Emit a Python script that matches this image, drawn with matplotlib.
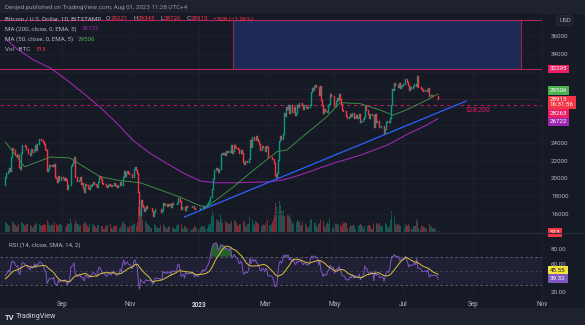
import numpy as np
import pandas as pd
import matplotlib.pyplot as plt
import matplotlib.transforms as mtransforms
from matplotlib.patches import Rectangle

plt.rcParams['font.family'] = ['Roboto', 'DejaVu Sans']

W, H = 585, 325
BG = '#161a25'
BAR_BG = '#1e222d'
TXT = '#b2b5be'
UP = '#089981'
DOWN = '#f23645'
PURPLE = '#9c27b0'
GREEN = '#4caf50'
PINK = '#c2185b'
BLUE = '#2962ff'
RSI_C = '#7e57c2'
RSI_MA_C = '#d8c33a'
FS = 4.5

# daily closes in thousand USD, BITSTAMP BTCUSD
warmup = [22.5, 22.2, 22.6, 20.4, 20.6, 19.0, 20.6, 20.7, 20.7, 20.0,
          21.1, 21.2, 21.5, 21.0, 20.7, 20.3, 20.1, 19.9, 19.3, 19.3,
          19.2, 20.2, 20.5, 20.4, 21.6, 21.6, 21.6, 20.8, 20.0, 19.3]  # Jun 13 - Jul 12 2022, RSI only
jul22 = [20.2, 20.6, 20.8, 21.2, 20.8, 22.4, 23.4, 23.2, 23.2, 22.7,
         22.5, 22.6, 21.3, 21.0, 22.9, 23.8, 23.8, 23.6, 23.3]
aug22 = [23.3, 22.9, 22.8, 22.6, 23.3, 23.0, 23.2, 23.8, 23.2, 23.9,
         23.9, 24.4, 24.4, 24.3, 24.1, 23.9, 23.3, 23.2, 20.8, 21.1,
         21.5, 21.4, 21.5, 21.4, 21.6, 20.2, 20.0, 19.6, 20.3, 19.8, 20.1]
sep22 = [20.1, 20.0, 19.8, 20.0, 19.8, 18.8, 19.3, 19.3, 21.4, 21.6,
         21.8, 22.4, 20.2, 20.2, 19.7, 19.8, 20.1, 19.4, 19.5, 18.9,
         18.5, 19.4, 19.3, 18.9, 18.8, 19.2, 19.1, 19.4, 19.6, 19.4]
oct22 = [19.3, 19.0, 19.6, 20.3, 20.2, 19.9, 19.5, 19.4, 19.4, 19.1,
         19.0, 19.2, 19.4, 19.2, 19.1, 19.3, 19.5, 19.3, 19.1, 19.0,
         19.2, 19.2, 19.6, 19.3, 20.1, 20.8, 20.3, 20.6, 20.8, 20.6, 20.5]
nov22 = [20.5, 20.2, 20.2, 21.1, 21.3, 20.9, 20.6, 18.5, 15.9, 17.6,
         17.0, 16.8, 16.3, 16.6, 16.9, 16.7, 16.7, 16.7, 16.7, 16.3,
         15.8, 16.2, 16.6, 16.6, 16.5, 16.5, 16.5, 16.2, 16.4, 17.2]
dec22 = [17.0, 17.1, 16.9, 17.1, 17.0, 17.1, 16.8, 17.2, 17.1, 17.1,
         17.1, 17.2, 17.8, 17.8, 17.4, 16.6, 16.8, 16.8, 16.4, 16.9,
         16.8, 16.8, 16.8, 16.8, 16.8, 16.9, 16.7, 16.5, 16.6, 16.6, 16.5]
jan23 = [16.6, 16.7, 16.7, 16.9, 16.8, 16.9, 16.9, 17.1, 17.2, 17.4,
         17.9, 18.8, 19.9, 20.9, 20.9, 21.2, 21.1, 20.7, 21.1, 22.7,
         22.8, 22.7, 22.9, 22.6, 23.1, 23.0, 23.1, 23.0, 23.7, 22.8, 23.1]
feb23 = [23.7, 23.5, 23.4, 23.3, 22.9, 22.8, 23.2, 22.9, 21.8, 21.6,
         21.9, 21.8, 21.8, 22.2, 24.3, 23.5, 24.6, 24.6, 24.3, 24.8,
         24.4, 24.2, 23.9, 23.2, 23.2, 23.6, 23.5, 23.1]
mar23 = [23.6, 23.5, 22.4, 22.4, 22.4, 22.4, 22.2, 21.7, 20.4, 20.2,
         20.6, 22.1, 24.2, 24.8, 24.4, 25.0, 27.4, 27.0, 28.0, 27.8,
         28.2, 27.3, 28.3, 27.5, 27.5, 28.0, 27.1, 27.3, 28.3, 28.0, 28.5]
apr23 = [28.5, 28.2, 27.8, 28.2, 28.2, 28.0, 27.9, 28.0, 28.3, 29.7,
         30.2, 29.9, 30.4, 30.5, 30.3, 30.3, 29.4, 30.4, 28.8, 28.2,
         27.3, 27.8, 27.6, 27.5, 28.3, 28.4, 29.5, 29.3, 29.2, 29.2]
may23 = [28.1, 28.7, 29.0, 28.8, 29.5, 28.9, 28.4, 27.7, 27.6, 27.6,
         27.0, 26.8, 26.8, 26.9, 27.2, 27.0, 27.4, 26.8, 26.9, 27.1,
         26.8, 26.9, 27.2, 26.3, 26.5, 26.7, 26.9, 28.1, 27.7, 27.7, 27.2]
jun23 = [26.8, 27.2, 27.1, 27.1, 25.8, 27.2, 26.3, 26.5, 26.5, 25.8,
         25.9, 25.9, 25.9, 25.1, 25.6, 26.3, 26.5, 26.3, 26.8, 28.3,
         30.0, 29.9, 30.7, 30.5, 30.5, 30.3, 30.7, 30.1, 30.4, 30.5]
jul23 = [30.6, 30.6, 31.2, 30.8, 30.5, 29.9, 30.3, 30.2, 30.2, 30.4,
         30.6, 30.4, 31.5, 30.3, 30.3, 30.3, 30.1, 29.9, 29.8, 29.9,
         29.9, 29.8, 30.1, 29.2, 29.2, 29.4, 29.3, 29.3, 29.3, 29.3, 29.221]
aug23 = [28.913]

# daily volume, hundreds of BTC
vol_jul22 = [45, 40, 38, 30, 28, 50, 48, 40, 35, 30, 25, 22, 38, 40, 45, 42, 35, 28, 30]
vol_aug22 = [35, 38, 33, 30, 28, 20, 22, 30, 35, 40, 42, 35, 30, 28, 30, 32, 35, 30, 55, 40,
             30, 28, 35, 32, 30, 45, 35, 28, 32, 35, 38]
vol_sep22 = [33, 30, 22, 20, 28, 42, 38, 35, 60, 40, 30, 38, 55, 42, 38, 35, 25, 32, 35, 38,
             45, 40, 35, 25, 22, 35, 40, 38, 32, 30]
vol_oct22 = [22, 20, 30, 32, 28, 25, 28, 15, 15, 25, 28, 30, 45, 35, 18, 15, 25, 28, 25, 26,
             30, 18, 20, 30, 42, 48, 35, 30, 22, 18, 28]
vol_nov22 = [30, 28, 32, 40, 35, 25, 45, 110, 130, 100, 80, 55, 45, 50, 40, 35, 30, 25, 20, 20,
             38, 35, 30, 22, 18, 18, 20, 30, 28, 35]
vol_dec22 = [25, 22, 15, 18, 25, 22, 25, 22, 20, 15, 12, 25, 35, 32, 28, 38, 20, 15, 25, 28,
             20, 18, 15, 10, 10, 15, 20, 25, 22, 18, 12]
vol_jan23 = [15, 22, 25, 28, 22, 25, 15, 20, 30, 35, 40, 70, 95, 80, 50, 60, 50, 55, 45, 75,
             60, 40, 45, 50, 45, 40, 38, 35, 40, 50, 45]
vol_feb23 = [55, 48, 40, 28, 25, 35, 38, 35, 50, 45, 25, 22, 38, 35, 65, 70, 60, 35, 30, 50,
             45, 42, 38, 45, 30, 25, 35, 32]
vol_mar23 = [42, 35, 55, 30, 25, 38, 45, 60, 85, 130, 110, 90, 140, 120, 95, 85, 100, 70, 65, 80,
             70, 75, 60, 50, 35, 40, 55, 45, 55, 45, 50]
vol_apr23 = [30, 32, 45, 40, 35, 30, 20, 18, 25, 55, 60, 45, 40, 45, 25, 20, 35, 40, 55, 60,
             50, 25, 20, 35, 45, 35, 60, 45, 20, 22]
vol_may23 = [40, 35, 35, 30, 38, 30, 22, 45, 35, 40, 45, 40, 20, 18, 30, 28, 30, 32, 25, 15,
             15, 25, 30, 35, 30, 28, 15, 25, 35, 28, 30]
vol_jun23 = [32, 28, 15, 15, 40, 55, 42, 35, 30, 40, 25, 28, 25, 35, 40, 35, 22, 18, 25, 55,
             95, 70, 65, 35, 28, 38, 35, 30, 25, 35]
vol_jul23 = [25, 18, 35, 30, 28, 38, 25, 15, 14, 25, 28, 25, 60, 50, 20, 15, 28, 25, 22, 22,
             20, 15, 15, 35, 25, 22, 20, 18, 12, 12, 22]
vol_aug23 = [5.13]

# MA (200) and MA (50), thousand USD
ma200_dates = ['2022-07-13', '2022-07-23', '2022-08-07', '2022-08-22', '2022-09-06', '2022-09-20',
               '2022-10-05', '2022-10-20', '2022-11-03', '2022-11-18', '2022-12-03', '2022-12-18',
               '2023-01-02', '2023-01-17', '2023-01-31', '2023-03-02', '2023-03-16', '2023-04-01',
               '2023-04-30', '2023-05-24', '2023-06-17', '2023-07-04', '2023-07-22', '2023-08-01']
ma200_vals = [35.7, 34.6, 33.3, 32.4, 31.0, 29.6, 28.0, 26.2, 24.3, 22.85, 21.7, 20.6,
              19.7, 19.5, 19.5, 19.6, 19.8, 20.4, 21.7, 22.6, 23.75, 24.9, 26.0, 26.722]
ma50_dates = ['2022-07-13', '2022-07-22', '2022-07-30', '2022-08-22', '2022-09-08', '2022-10-05',
              '2022-10-20', '2022-11-10', '2022-12-15', '2023-01-02', '2023-01-08', '2023-01-31',
              '2023-02-18', '2023-03-11', '2023-03-20', '2023-04-01', '2023-04-24', '2023-05-06',
              '2023-05-24', '2023-06-10', '2023-06-22', '2023-07-04', '2023-07-22', '2023-08-01']
ma50_vals = [24.1, 22.6, 21.3, 22.4, 22.3, 20.2, 19.8, 19.5, 17.9, 16.9, 16.8, 19.0,
             20.9, 23.0, 23.2, 24.5, 26.9, 28.5, 28.4, 27.7, 27.1, 27.7, 28.8, 29.506]

trend_dates = ['2022-12-19', '2023-08-26']
trend_prices = [15660, 28690]
zone_dates = ['2023-01-31', '2023-10-14']
zone_prices = [32295, 37800]
level_price = 28263
last_price = 28913

price_ticks = [16000, 18000, 20000, 22000, 24000, 34000, 36000]
grid_only = [14000, 26000, 28000, 30000, 32000]
rsi_ticks = [20, 60, 80]
tick_dates = ['2022-09-01', '2022-11-01', '2023-01-01', '2023-03-01', '2023-05-01',
              '2023-07-01', '2023-09-01', '2023-11-01']
tick_labels = ['Sep', 'Nov', '2023', 'Mar', 'May', 'Jul', 'Sep', 'Nov']

closes = np.array(jul22 + aug22 + sep22 + oct22 + nov22 + dec22 + jan23 + feb23 + mar23
                  + apr23 + may23 + jun23 + jul23 + aug23) * 1000
volume = np.array(vol_jul22 + vol_aug22 + vol_sep22 + vol_oct22 + vol_nov22 + vol_dec22
                  + vol_jan23 + vol_feb23 + vol_mar23 + vol_apr23 + vol_may23 + vol_jun23
                  + vol_jul23 + vol_aug23) * 100
opens = np.concatenate([[warmup[-1] * 1000], closes[:-1]])

t0 = pd.Timestamp('2022-07-13')
def day(d):
    return (pd.to_datetime(d) - t0) / pd.Timedelta(days=1)

x = np.arange(len(closes))

# RSI 14 (RMA) and its SMA 14
s = pd.Series(np.array(warmup) * 1000).tolist() + closes.tolist()
s = pd.Series(s)
d = s.diff()
up = d.clip(lower=0).ewm(alpha=1/14, adjust=False).mean()
dn = (-d.clip(upper=0)).ewm(alpha=1/14, adjust=False).mean()
rsi = 100 - 100 / (1 + up / dn)
rsi_ma = rsi.rolling(14).mean()
rsi = rsi.values[len(warmup):]
rsi_ma = rsi_ma.values[len(warmup):]


def rect(x0, y0, x1, y1):
    return [x0 / W, 1 - y1 / H, (x1 - x0) / W, (y1 - y0) / H]


fig = plt.figure(figsize=(W / 100, H / 100), dpi=100, facecolor=BG)
fig.add_artist(Rectangle((0, 1 - 13 / H), 1, 13 / H, transform=fig.transFigure, color=BAR_BG, zorder=0))
fig.add_artist(Rectangle((0, 0), 1, 17 / H, transform=fig.transFigure, color=BAR_BG, zorder=0))

vax = fig.add_axes(rect(0, 13, 542, 232))
ax = fig.add_axes(rect(0, 13, 542, 232), sharex=vax)
rax = fig.add_axes(rect(0, 233, 542, 296), sharex=vax)
for a in (vax, ax, rax):
    a.set_facecolor(BG)
    for sp in a.spines.values():
        sp.set_visible(False)
ax.patch.set_visible(False)

xmin, xmax = -4.75, 476.2
ax.set_xlim(xmin, xmax)
ax.set_ylim(13970, 38585)

# volume
vcol = np.where(closes >= opens, UP, DOWN)
vax.bar(x, volume, width=0.8, color=vcol, alpha=0.5, linewidth=0)
vax.set_ylim(0, volume.max() * 7)
vax.set_yticks([])
vax.tick_params(axis='x', length=0, labelbottom=False)

# grid
ticks_x = [day(t) for t in tick_dates]
ax.set_xticks(ticks_x)
ax.set_yticks(price_ticks)
ax.grid(color='#1e2230', linewidth=0.6)
ax.set_axisbelow(True)
ax.yaxis.tick_right()
ax.set_yticklabels([str(v) for v in price_ticks])
ax.tick_params(axis='y', length=0, pad=6.5, labelsize=FS, labelcolor=TXT)
ax.tick_params(axis='x', length=0, labelbottom=False)
for p in grid_only:
    ax.axhline(p, color='#1e2230', linewidth=0.6, zorder=0.5)

# zone and levels
z0, z1 = day(zone_dates[0]), day(zone_dates[1])
ax.add_patch(Rectangle((z0, zone_prices[0]), z1 - z0, zone_prices[1] - zone_prices[0],
                       facecolor='#1d2a55', edgecolor='#9c2457', linewidth=0.8, zorder=1))
for p in zone_prices:
    ax.axhline(p, color='#b0245f', linewidth=0.8, zorder=1.5)
ax.axhline(level_price, color=PINK, linewidth=0.8, linestyle=(0, (3, 3)), zorder=1.5)
ax.axhline(last_price, color=DOWN, linewidth=0.5, linestyle=(0, (1, 2)), alpha=0.6, zorder=1.5)

# moving averages and trendline
ax.plot([day(v) for v in ma200_dates], np.array(ma200_vals) * 1000, color=PURPLE, linewidth=0.8, zorder=2)
ax.plot([day(v) for v in ma50_dates], np.array(ma50_vals) * 1000, color=GREEN, alpha=0.75, linewidth=0.7, zorder=2)
ax.plot([day(v) for v in trend_dates], trend_prices, color=BLUE, linewidth=0.9, zorder=2)

# candles
lo = np.minimum(opens, closes)
hi = np.maximum(opens, closes)
ax.vlines(x, lo, hi, colors=vcol, linewidth=1.0, capstyle='projecting', zorder=3)

ax.annotate('$28,200', xy=(day('2023-08-25'), level_price), xytext=(0, -6), textcoords='offset pixels',
            color='#d81b60', fontsize=5, ha='left', va='center')

# axis tags
def tag(a, value, text, fc, tc='white', dy=0):
    tr = mtransforms.blended_transform_factory(a.transAxes, a.transData)
    a.annotate(text, xy=(1, value), xycoords=tr, xytext=(8, dy), textcoords='offset pixels',
               ha='left', va='center', fontsize=FS, color=tc, linespacing=1.0,
               bbox=dict(boxstyle='square,pad=0.3', fc=fc, ec='none'),
               annotation_clip=False, zorder=10)

tag(ax, 32295, '32295', '#e91e63')
tag(ax, 29506, '29506', GREEN, dy=3.3)
tag(ax, last_price, '28913\n16:31:56', DOWN, dy=-3.4)
tag(ax, level_price, '28263', '#e91e63', dy=-9)
tag(ax, 26722, '26722', PURPLE, dy=-3.4)
tag(vax, volume[-1], '513', DOWN, dy=-2)

# RSI pane
rax.set_ylim(15.1, 103)
rax.axhspan(30, 70, color=RSI_C, alpha=0.1, linewidth=0)
for lvl, al in ((70, 0.8), (50, 0.4), (30, 0.8)):
    rax.axhline(lvl, color='#787b86', linewidth=0.6, linestyle=(0, (3, 3)), alpha=al)
rax.fill_between(x, 70, rsi, where=rsi > 70, interpolate=True, color='#2e7d32', alpha=0.7, linewidth=0)
rax.plot(x, rsi, color=RSI_C, linewidth=0.7)
rax.plot(x, rsi_ma, color=RSI_MA_C, linewidth=0.7)
rax.set_xticks(ticks_x)
rax.set_xticklabels(tick_labels)
rax.grid(axis='x', color='#1e2230', linewidth=0.6)
rax.yaxis.tick_right()
rax.set_yticks(rsi_ticks)
rax.set_yticklabels([f'{v:.2f}' for v in rsi_ticks])
rax.tick_params(axis='y', length=0, pad=6.5, labelsize=FS, labelcolor=TXT)
rax.tick_params(axis='x', length=0, pad=3.5, labelsize=FS + 0.2, labelcolor=TXT)
for lab in rax.get_xticklabels():
    if lab.get_text() == '2023':
        lab.set_fontweight('bold')
        lab.set_color('#d1d4dc')
tag(rax, 45.55, '45.55', '#f5e33b', tc='#131722', dy=3.5)
tag(rax, 39.32, '39.32', RSI_C)
rax.set_xlim(xmin, xmax)

# separators
fig.add_artist(plt.Line2D([0, 1], [1 - 232.5 / H] * 2, transform=fig.transFigure, color='#2a2e39', linewidth=0.8))
fig.add_artist(plt.Line2D([542 / W] * 2, [17 / H, 1 - 13 / H], transform=fig.transFigure, color='#1f2330', linewidth=0.6))

# legends
def chain(x0, y0, parts, size=FS):
    t = fig.text(x0 / W, 1 - y0 / H, parts[0][0], color=parts[0][1], fontsize=size, ha='left', va='center')
    for txt, col, gap in parts[1:]:
        t = ax.annotate(txt, xy=(1, 0.5), xycoords=t, xytext=(gap, 0), textcoords='offset points',
                        color=col, fontsize=size, ha='left', va='center', annotation_clip=False)

chain(5, 7, [('Denjed published on TradingView.com, Aug 01, 2023 11:28 UTC+4', '#9598a1')])
chain(5, 19, [('Bitcoin / U.S. Dollar, 1D, BITSTAMP', TXT), ('O', TXT, 3.5), ('29221', DOWN, 0.3),
              ('H', TXT, 3.5), ('29345', DOWN, 0.3), ('L', TXT, 3.5), ('28726', DOWN, 0.3),
              ('C', TXT, 3.5), ('28913', DOWN, 0.3), ('\u2212308 (\u22121.06%)', DOWN, 3.5)])
chain(5, 29, [('MA (200, close, 0, EMA, 5)', TXT), ('26722', PURPLE, 3.5)])
chain(5, 39.5, [('MA (50, close, 0, EMA, 5)', TXT), ('29506', GREEN, 3.5)])
chain(5, 49.5, [('Vol \u00b7 BTC', TXT), ('513', DOWN, 3.5)])
chain(9, 245, [('RSI (14, close, SMA, 14, 2)', TXT), ('39.32', RSI_C, 3.5), ('45.55', RSI_MA_C, 3.5),
               ('\u2300', TXT, 4), ('\u2300', TXT, 3)])

# USD box
fig.text(565 / W, 1 - 20.5 / H, 'USD', color=TXT, fontsize=FS, ha='center', va='center',
         bbox=dict(boxstyle='round,pad=0.4', fc='#1e222d', ec='#2a2e39', linewidth=0.5))

# footer
fig.text(5 / W, 1 - 317 / H, 'TV', color='#d1d4dc', fontsize=5.5, fontweight='bold', ha='left', va='center')
fig.text(16 / W, 1 - 317 / H, 'TradingView', color='#d1d4dc', fontsize=5.2, ha='left', va='center')

fig.savefig('out.png', dpi=100, facecolor=BG)
